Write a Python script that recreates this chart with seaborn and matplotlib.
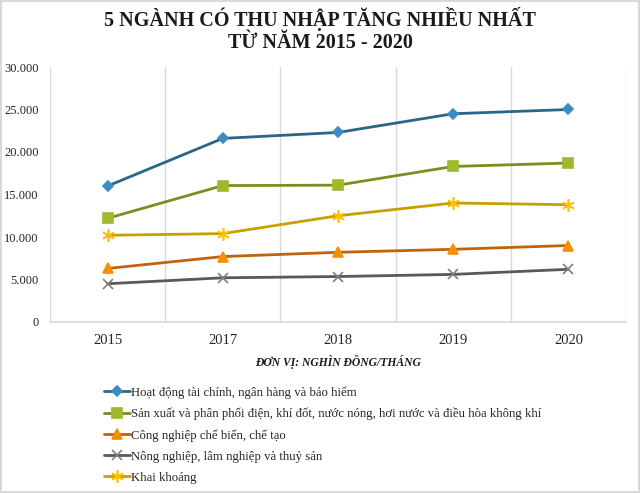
import numpy as np
import pandas as pd
import matplotlib.pyplot as plt
from matplotlib.ticker import FuncFormatter, FixedLocator
import seaborn as sns

years = ["2015", "2017", "2018", "2019", "2020"]

tai_chinh = [16000, 21600, 22300, 24500, 25000]
dien_khi = [12200, 16050, 16100, 18300, 18700]
che_bien = [6300, 7700, 8200, 8550, 9000]
nong_nghiep = [4500, 5200, 5350, 5600, 6200]
khai_khoang = [10200, 10400, 12500, 14000, 13800]

labels = [
    "Hoạt động tài chính, ngân hàng và bảo hiểm",
    "Sản xuất và phân phối điện, khí đốt, nước nóng, hơi nước và điều hòa không khí",
    "Công nghiệp chế biến, chế tạo",
    "Nông nghiệp, lâm nghiệp và thuỷ sản",
    "Khai khoáng",
]
series = [tai_chinh, dien_khi, che_bien, nong_nghiep, khai_khoang]

# line colour, marker colour, marker, marker size
styles = [
    ("#2b6688", "#3b8dc1", "D", 5),
    ("#76911f", "#9dba2c", "s", 7),
    ("#c0640c", "#f59000", "^", 7),
    ("#595959", "#7f7f7f", "x", 7),
    ("#c9a000", "#ffc000", (6, 2, 0), 9),
]

sns.set_theme(style="white")
plt.rcParams["font.family"] = ["Liberation Serif", "DejaVu Serif"]

fig = plt.figure(figsize=(6.4, 4.93), dpi=100)
fig.patch.set_edgecolor("#d9d9d9")
fig.patch.set_linewidth(1.5)
ax = fig.add_axes([50 / 640, 1 - 322 / 493, 576 / 640, 255 / 493])

for vals, lab, (lc, mc, mk, ms) in zip(series, labels, styles):
    df = pd.DataFrame({"year": years, "value": vals})
    sns.lineplot(data=df, x="year", y="value", ax=ax, color=lc, linewidth=2,
                 marker=mk, markersize=ms, markerfacecolor=mc, markeredgecolor=mc,
                 markeredgewidth=1.2, label=lab)

ax.set_xlim(-0.5, 4.5)
ax.set_ylim(0, 30000)
ax.set_yticks(np.arange(0, 30001, 5000))
ax.yaxis.set_major_formatter(FuncFormatter(lambda v, p: f"{int(v):,}".replace(",", ".")))
ax.xaxis.set_minor_locator(FixedLocator(np.arange(-0.5, 4.6, 1)))
ax.grid(which="minor", axis="x", color="#d9d9d9", linewidth=1)
ax.grid(which="major", visible=False)
ax.tick_params(axis="both", which="both", length=0)
ax.tick_params(axis="x", labelsize=10.5, pad=9, colors="#262626")
ax.tick_params(axis="y", labelsize=9, pad=8, colors="#262626")
for s in ["top", "right", "left"]:
    ax.spines[s].set_visible(False)
ax.spines["bottom"].set_color("#d9d9d9")
ax.set_xlabel("")
ax.set_ylabel("")

ax.legend_.remove()
handles, lbls = ax.get_legend_handles_labels()
fig.legend(handles, lbls, loc="upper left", bbox_to_anchor=(99 / 640, 1 - 381 / 493),
           frameon=False, fontsize=9.2, labelspacing=0.7, handlelength=2.0,
           handletextpad=0.1, borderaxespad=0)

fig.text(0.5, 1 - 19 / 493, "5 NGÀNH CÓ THU NHẬP TĂNG NHIỀU NHẤT", ha="center", va="center",
         fontsize=14.5, fontweight="bold", color="#1a1a1a")
fig.text(0.5, 1 - 43 / 493, "TỪ NĂM 2015 - 2020", ha="center", va="center",
         fontsize=14.5, fontweight="bold", color="#1a1a1a")
fig.text(338 / 640, 1 - 362 / 493, "ĐƠN VỊ: NGHÌN ĐỒNG/THÁNG", ha="center", va="center",
         fontsize=8.4, fontweight="bold", style="italic", color="#1a1a1a")

fig.savefig("out.png", dpi=100, edgecolor=fig.get_edgecolor())
